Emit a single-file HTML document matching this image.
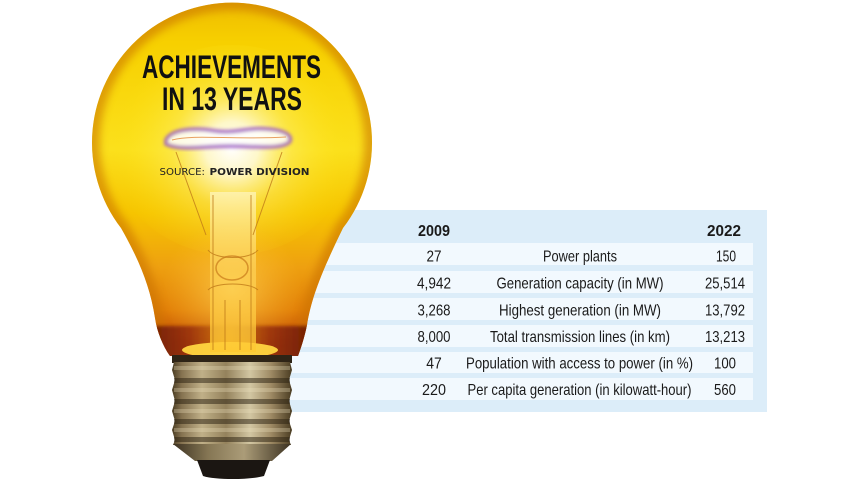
<!DOCTYPE html>
<html><head><meta charset="utf-8"><style>
html,body{margin:0;padding:0;background:#fff;}
svg{display:block;}
</style></head><body>
<svg width="857" height="482" viewBox="0 0 857 482" xmlns="http://www.w3.org/2000/svg">
<defs>
  <linearGradient id="body" x1="0" y1="0" x2="0" y2="356" gradientUnits="userSpaceOnUse">
    <stop offset="0" stop-color="#eebb00"/>
    <stop offset="0.12" stop-color="#f7d000"/>
    <stop offset="0.42" stop-color="#fbe01c"/>
    <stop offset="0.6" stop-color="#f6c400"/>
    <stop offset="0.75" stop-color="#eea010"/>
    <stop offset="0.87" stop-color="#e28008"/>
    <stop offset="0.94" stop-color="#c85a08"/>
    <stop offset="1" stop-color="#7a2208"/>
  </linearGradient>
  <radialGradient id="glow" cx="232" cy="148" r="120" gradientUnits="userSpaceOnUse">
    <stop offset="0" stop-color="#ffffff" stop-opacity="1"/>
    <stop offset="0.22" stop-color="#fffce8" stop-opacity="0.85"/>
    <stop offset="0.5" stop-color="#fff27a" stop-opacity="0.4"/>
    <stop offset="1" stop-color="#ffe600" stop-opacity="0"/>
  </radialGradient>
  <radialGradient id="glow2" cx="232" cy="290" r="70" gradientUnits="userSpaceOnUse">
    <stop offset="0" stop-color="#ffd860" stop-opacity="0.7"/>
    <stop offset="1" stop-color="#ffc030" stop-opacity="0"/>
  </radialGradient>
  <linearGradient id="bottomband" x1="150" y1="0" x2="310" y2="0" gradientUnits="userSpaceOnUse">
    <stop offset="0" stop-color="#6a1a06"/>
    <stop offset="0.25" stop-color="#9a3208"/>
    <stop offset="0.5" stop-color="#d88010"/>
    <stop offset="0.75" stop-color="#9a3208"/>
    <stop offset="1" stop-color="#6a1a06"/>
  </linearGradient>
  <linearGradient id="stem" x1="0" y1="190" x2="0" y2="352" gradientUnits="userSpaceOnUse">
    <stop offset="0" stop-color="#fff6c0" stop-opacity="0.75"/>
    <stop offset="0.5" stop-color="#ffd860" stop-opacity="0.6"/>
    <stop offset="1" stop-color="#ffc830" stop-opacity="0.8"/>
  </linearGradient>
  <linearGradient id="metal" x1="172" y1="0" x2="292" y2="0" gradientUnits="userSpaceOnUse">
    <stop offset="0" stop-color="#4a3c22"/>
    <stop offset="0.08" stop-color="#857250"/>
    <stop offset="0.25" stop-color="#c0b088"/>
    <stop offset="0.45" stop-color="#94825c"/>
    <stop offset="0.65" stop-color="#d2c6a2"/>
    <stop offset="0.82" stop-color="#a08c66"/>
    <stop offset="1" stop-color="#4a3c22"/>
  </linearGradient>
  <linearGradient id="cone" x1="172" y1="0" x2="292" y2="0" gradientUnits="userSpaceOnUse">
    <stop offset="0" stop-color="#3a3020"/>
    <stop offset="0.3" stop-color="#857654"/>
    <stop offset="0.6" stop-color="#ab9c78"/>
    <stop offset="1" stop-color="#3a3020"/>
  </linearGradient>
  <clipPath id="bulbclip">
    <path d="M170,356 L298,356 C302,345 305,335 307,325 C311,300 320,275 343,228 A140,140 0 1 0 121,228 C138,258 150,285 155,318 C157,332 163,346 170,356 Z"/>
  </clipPath>
  <filter id="blur4" x="-20%" y="-20%" width="140%" height="140%"><feGaussianBlur stdDeviation="4"/></filter>
  <filter id="blur2" x="-20%" y="-20%" width="140%" height="140%"><feGaussianBlur stdDeviation="1.5"/></filter>
</defs>

<rect width="857" height="482" fill="#ffffff"/>

<!-- table panel -->
<rect x="280" y="210" width="487" height="202" fill="#dcedf9"/>
<g fill="#f2f9fe">
  <rect x="280" y="243" width="473" height="22"/>
  <rect x="280" y="271" width="473" height="22"/>
  <rect x="280" y="298" width="473" height="22"/>
  <rect x="280" y="325" width="473" height="22"/>
  <rect x="280" y="352" width="473" height="21"/>
  <rect x="280" y="378" width="473" height="22"/>
</g>

<!-- bulb glass -->
<g clip-path="url(#bulbclip)">
  <rect x="80" y="0" width="310" height="360" fill="url(#body)"/>
  <path d="M170,356 L298,356 C302,345 305,335 307,325 C311,300 320,275 343,228 A140,140 0 1 0 121,228 C138,258 150,285 155,318 C157,332 163,346 170,356 Z" fill="none" stroke="#c87000" stroke-width="16" opacity="0.55" filter="url(#blur4)"/>
  <ellipse cx="232" cy="150" rx="120" ry="105" fill="url(#glow)"/>
  <ellipse cx="232" cy="290" rx="70" ry="70" fill="url(#glow2)"/>
  <rect x="140" y="326" width="180" height="32" fill="url(#bottomband)" opacity="0.9" filter="url(#blur2)"/>
  <ellipse cx="230" cy="350" rx="48" ry="8" fill="#ffd640" opacity="0.95"/>
  <!-- stem -->
  <rect x="210" y="192" width="46" height="160" fill="url(#stem)"/>
  <g stroke="#c07a18" stroke-width="1" fill="none" opacity="0.8">
    <path d="M213,195 L213,350"/>
    <path d="M251,195 L251,350"/>
    <path d="M208,250 C215,260 250,260 258,250"/>
    <path d="M208,290 C215,282 250,282 258,290"/>
    <path d="M225,300 L225,350"/>
    <path d="M240,300 L240,350"/>
    <path d="M176,152 L206,235"/>
    <path d="M282,152 L253,235"/>
  </g>
  <ellipse cx="232" cy="268" rx="16" ry="12" fill="none" stroke="#c06a10" stroke-width="1.5" opacity="0.6"/>
  <!-- filament -->
  <path d="M166,140 C172,128 198,128 215,131 C235,134 250,127 266,129 C282,130 292,134 290,141 C284,150 255,146 230,146 C205,146 180,151 166,144 Z" fill="#ffffff" stroke="#a060c8" stroke-width="4" opacity="0.85" filter="url(#blur2)"/>
  <path d="M172,140 C195,134 230,140 286,137" stroke="#e8a060" stroke-width="1" fill="none"/>
</g>

<!-- screw base -->
<rect x="172" y="355" width="120" height="8" fill="#2e2416"/>
<path d="M174,362 L290,362 L292,370 L289,380 L292,390 L289,401 L292,411 L289,421 L292,430 L289,440 L291,445 L173,445 L175,440 L172,430 L175,421 L172,411 L175,401 L172,390 L175,380 L172,370 Z" fill="url(#metal)"/>
<g fill="#2a2010" opacity="0.5">
  <rect x="174" y="378" width="116" height="5"/>
  <rect x="174" y="399" width="116" height="5"/>
  <rect x="174" y="419" width="116" height="5"/>
  <rect x="174" y="437" width="116" height="5"/>
</g>
<g fill="#f0e4c0" opacity="0.3">
  <rect x="174" y="366" width="116" height="4"/>
  <rect x="174" y="388" width="116" height="4"/>
  <rect x="174" y="409" width="116" height="4"/>
  <rect x="174" y="428" width="116" height="4"/>
</g>
<path d="M173,444 L291,444 L272,461 L195,461 Z" fill="url(#cone)"/>
<path d="M197,460 L270,460 L264,476 C250,480 215,480 203,476 Z" fill="#1b1612"/>

<!-- title -->
<g font-family="'Liberation Sans Narrow','Liberation Sans',sans-serif" font-weight="bold" fill="#111">
  <text x="142" y="78" font-size="32" textLength="179" lengthAdjust="spacingAndGlyphs">ACHIEVEMENTS</text>
  <text x="162" y="110" font-size="32" textLength="140" lengthAdjust="spacingAndGlyphs">IN 13 YEARS</text>
</g>
<g font-family="'DejaVu Sans',sans-serif" font-size="10" fill="#222">
  <text x="159.5" y="175" textLength="45.5" lengthAdjust="spacingAndGlyphs">SOURCE:</text>
  <text x="209.5" y="175" font-weight="bold" textLength="100" lengthAdjust="spacingAndGlyphs">POWER DIVISION</text>
</g>

<!-- table text -->
<g font-family="'Liberation Sans Narrow','Liberation Sans',sans-serif" fill="#1a1a1a" text-anchor="middle">
  <text x="434" y="236" font-size="15.5" font-weight="bold" textLength="32" lengthAdjust="spacingAndGlyphs">2009</text>
  <text x="724" y="236" font-size="15.5" font-weight="bold" textLength="34" lengthAdjust="spacingAndGlyphs">2022</text>
  <g font-size="16">
    <text x="434" y="261.5" textLength="15" lengthAdjust="spacingAndGlyphs">27</text>
    <text x="580" y="261.5" textLength="74" lengthAdjust="spacingAndGlyphs">Power plants</text>
    <text x="726" y="261.5" textLength="20" lengthAdjust="spacingAndGlyphs">150</text>

    <text x="434" y="288.5" textLength="34" lengthAdjust="spacingAndGlyphs">4,942</text>
    <text x="580" y="288.5" textLength="167" lengthAdjust="spacingAndGlyphs">Generation capacity (in MW)</text>
    <text x="725" y="288.5" textLength="40" lengthAdjust="spacingAndGlyphs">25,514</text>

    <text x="434" y="315.5" textLength="33" lengthAdjust="spacingAndGlyphs">3,268</text>
    <text x="580" y="315.5" textLength="162" lengthAdjust="spacingAndGlyphs">Highest generation (in MW)</text>
    <text x="725" y="315.5" textLength="40" lengthAdjust="spacingAndGlyphs">13,792</text>

    <text x="434" y="342" textLength="33" lengthAdjust="spacingAndGlyphs">8,000</text>
    <text x="580" y="342" textLength="180" lengthAdjust="spacingAndGlyphs">Total transmission lines (in km)</text>
    <text x="725" y="342" textLength="40" lengthAdjust="spacingAndGlyphs">13,213</text>

    <text x="434" y="368.5" textLength="15.5" lengthAdjust="spacingAndGlyphs">47</text>
    <text x="579.5" y="368.5" textLength="227" lengthAdjust="spacingAndGlyphs">Population with access to power (in %)</text>
    <text x="725" y="368.5" textLength="22" lengthAdjust="spacingAndGlyphs">100</text>

    <text x="434" y="395" textLength="24" lengthAdjust="spacingAndGlyphs">220</text>
    <text x="579.5" y="395" textLength="224" lengthAdjust="spacingAndGlyphs">Per capita generation (in kilowatt-hour)</text>
    <text x="725" y="395" textLength="22" lengthAdjust="spacingAndGlyphs">560</text>
  </g>
</g>
</svg>
</body></html>
